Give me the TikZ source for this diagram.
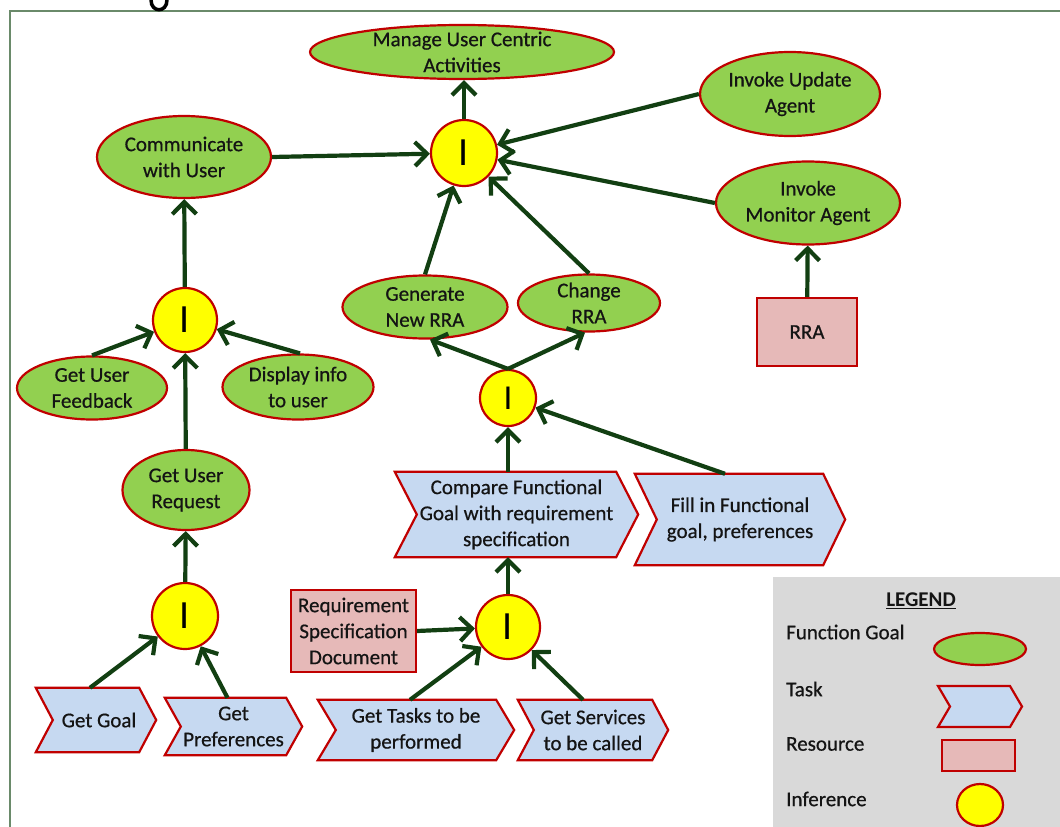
\documentclass[tikz,border=0pt]{standalone}
\usepackage{fontspec}
\setmainfont{Carlito}
\newfontfamily\heavyfont{Carlito}[FakeBold=0.6]
\usetikzlibrary{shapes.geometric,arrows.meta,backgrounds,calc}
\definecolor{gfill}{HTML}{92D050}
\definecolor{rline}{HTML}{C00000}
\definecolor{tfill}{HTML}{C6D9F1}
\definecolor{rfill}{HTML}{E6B9B8}
\definecolor{ifill}{HTML}{FFFF00}
\definecolor{arr}{HTML}{123F12}
\definecolor{framec}{HTML}{6A8A6A}
\definecolor{leg}{HTML}{D9D9D9}
\definecolor{txt}{HTML}{141414}
\newcommand\dfont{\heavyfont\fontsize{21}{26}\selectfont}
\newcommand\taskshape[2]{%
  \begin{pgfonlayer}{background}
  \draw[taskline] (#1.north west) -- ([xshift=-#2]#1.north east) -- (#1.east)
    -- ([xshift=-#2]#1.south east) -- (#1.south west) -- ([xshift=#2]#1.west) -- cycle;
  \end{pgfonlayer}}
\tikzset{
  goal/.style={ellipse, draw=rline, fill=gfill, line width=2.2pt, inner sep=0pt},
  gtext/.style={align=center, font=\dfont, text=txt, inner sep=0pt},
  inf/.style={circle, draw=rline, fill=ifill, line width=2.2pt, inner sep=0pt, font=\fontsize{40}{40}\selectfont, text=black},
  res/.style={rectangle, draw=rline, fill=rfill, line width=2.2pt, inner sep=0pt, align=center, font=\dfont, text=txt},
  taskbox/.style={rectangle, inner sep=0pt, align=center, font=\dfont, text=txt},
  taskline/.style={draw=rline, fill=tfill, line width=2.2pt, line join=miter},
  link/.style={draw=arr, line width=4.2pt, -{Straight Barb[length=12pt,width=24pt]}},
  legtext/.style={anchor=west, font=\dfont, text=txt, inner sep=0pt},
}
\begin{document}
\begin{tikzpicture}[x=1pt,y=-1pt]
\useasboundingbox (0,0) rectangle (1060,827);
% background elements
\begin{pgfonlayer}{background}
\fill[leg] (773,577) rectangle (1060,827);
\end{pgfonlayer}
\draw[framec, line width=2pt] (10,827) -- (10,11) -- (1060,11);
\draw[black, line width=3.5pt] (151,0) .. controls (151,13) and (167,13) .. (167,0);

% goals
\node[goal, minimum width=304, minimum height=54, label={[gtext]center:Manage User Centric\\Activities}] (manage) at (462,52) {};
\node[goal, minimum width=180, minimum height=84, label={[gtext]center:Invoke Update\\Agent}] (update) at (790,94) {};
\node[goal, minimum width=174, minimum height=82, label={[gtext]center:Communicate\\with User}] (comm) at (184,157) {};
\node[goal, minimum width=184, minimum height=83, label={[gtext]center:Invoke\\Monitor Agent}] (monitor) at (808,203) {};
\node[goal, minimum width=165, minimum height=63, label={[gtext]center:Generate\\New RRA}] (gen) at (425,307) {};
\node[goal, minimum width=142, minimum height=57, label={[gtext]center:Change\\RRA}] (change) at (589,303) {};
\node[goal, minimum width=150, minimum height=63, label={[gtext]center:Get User\\Feedback}] (feedback) at (92,388) {};
\node[goal, minimum width=151, minimum height=65, label={[gtext]center:Display info\\to user}] (display) at (298,387) {};
\node[goal, minimum width=127, minimum height=80, label={[gtext]center:Get User\\Request}] (request) at (186,490) {};

% inferences
\node[inf, minimum size=66] (i1) at (464,153) {I};
\node[inf, minimum size=64] (i2) at (185,320) {I};
\node[inf, minimum size=56, font=\fontsize{35}{35}\selectfont] (i3) at (508,398) {I};
\node[inf, minimum size=66] (i4) at (185,616) {I};
\node[inf, minimum size=64] (i5) at (508,627) {I};

% resources
\node[res, minimum width=100, minimum height=68] (rra) at (807,332) {RRA};
\node[res, minimum width=125, minimum height=82] (reqspec) at (353.5,631) {Requirement\\Specification\\Document};

% tasks
\node[taskbox, minimum width=120, minimum height=64] (getgoal) at (96,720) {\hspace*{6pt}Get Goal};
\taskshape{getgoal}{17pt}
\node[taskbox, minimum width=137, minimum height=57] (getpref) at (233.5,726.5) {Get\\Preferences};
\taskshape{getpref}{16pt}
\node[taskbox, minimum width=196, minimum height=60] (gettasks) at (416,730) {Get Tasks to be\\performed};
\taskshape{gettasks}{18pt}
\node[taskbox, minimum width=150, minimum height=60] (getserv) at (593,730) {Get Services\\to be called};
\taskshape{getserv}{16pt}
\node[taskbox, minimum width=243, minimum height=85] (compare) at (516.5,514.5) {Compare Functional\\Goal with requirement\\specification};
\taskshape{compare}{22pt}
\node[taskbox, minimum width=210, minimum height=91] (fill) at (740,519.5) {Fill in Functional\\goal, preferences};
\taskshape{fill}{22pt}

% connectors
\draw[link] (comm.east) -- (i1);
\draw[link] (update.west) -- (i1);
\draw[link] (monitor.west) -- (i1);
\draw[link] (i1.north) -- (i1.north |- manage.south);
\draw[link] (gen.north) -- (i1);
\draw[link] (change.north) -- (i1);
\draw[link] (rra) -- (monitor);
\draw[link] (i3.north) -- ([xshift=5pt]gen.south);
\draw[link] (i3.north) -- ([xshift=-4pt]change.south);
\draw[link] (compare.north -| i3) -- (i3);
\draw[link] ([xshift=-15pt]fill.north) -- (i3);
\draw[link] (i5) -- (i5 |- compare.south);
\draw[link] (reqspec.east) -- (i5);
\draw[link] ([xshift=-6pt]gettasks.north) -- (i5);
\draw[link] ([xshift=-10pt]getserv.north) -- (i5);
\draw[link] (i4) -- (request);
\draw[link] ([xshift=-6pt]getgoal.north) -- (i4);
\draw[link] ([xshift=-6pt]getpref.north) -- (i4);
\draw[link] (request) -- (i2);
\draw[link] (feedback.north) -- (i2);
\draw[link] ([xshift=2pt]display.north) -- (i2);
\draw[link] (i2) -- (comm);

% legend
\node[font=\fontsize{21}{26}\selectfont\bfseries, text=txt, inner sep=0pt] (legtitle) at (921,601) {\underline{LEGEND}};
\node[legtext] (lgoal) at (786,632) {Function Goal};
\node[legtext] (ltask) at (786,689) {Task};
\node[legtext] (lres) at (786,744) {Resource};
\node[legtext] (linf) at (786,799) {Inference};
\draw[draw=rline, fill=gfill, line width=2.2pt] (980,649) ellipse [x radius=46, y radius=16];
\draw[taskline] (938,686) -- (1010,686) -- (1022,706.5) -- (1010,727) -- (938,727) -- (950,706.5) -- cycle;
\draw[draw=rline, fill=rfill, line width=2.2pt] (942,740) rectangle (1015,771);
\draw[draw=rline, fill=ifill, line width=2.2pt] (980,805) ellipse [x radius=23, y radius=21];
\end{tikzpicture}
\end{document}
